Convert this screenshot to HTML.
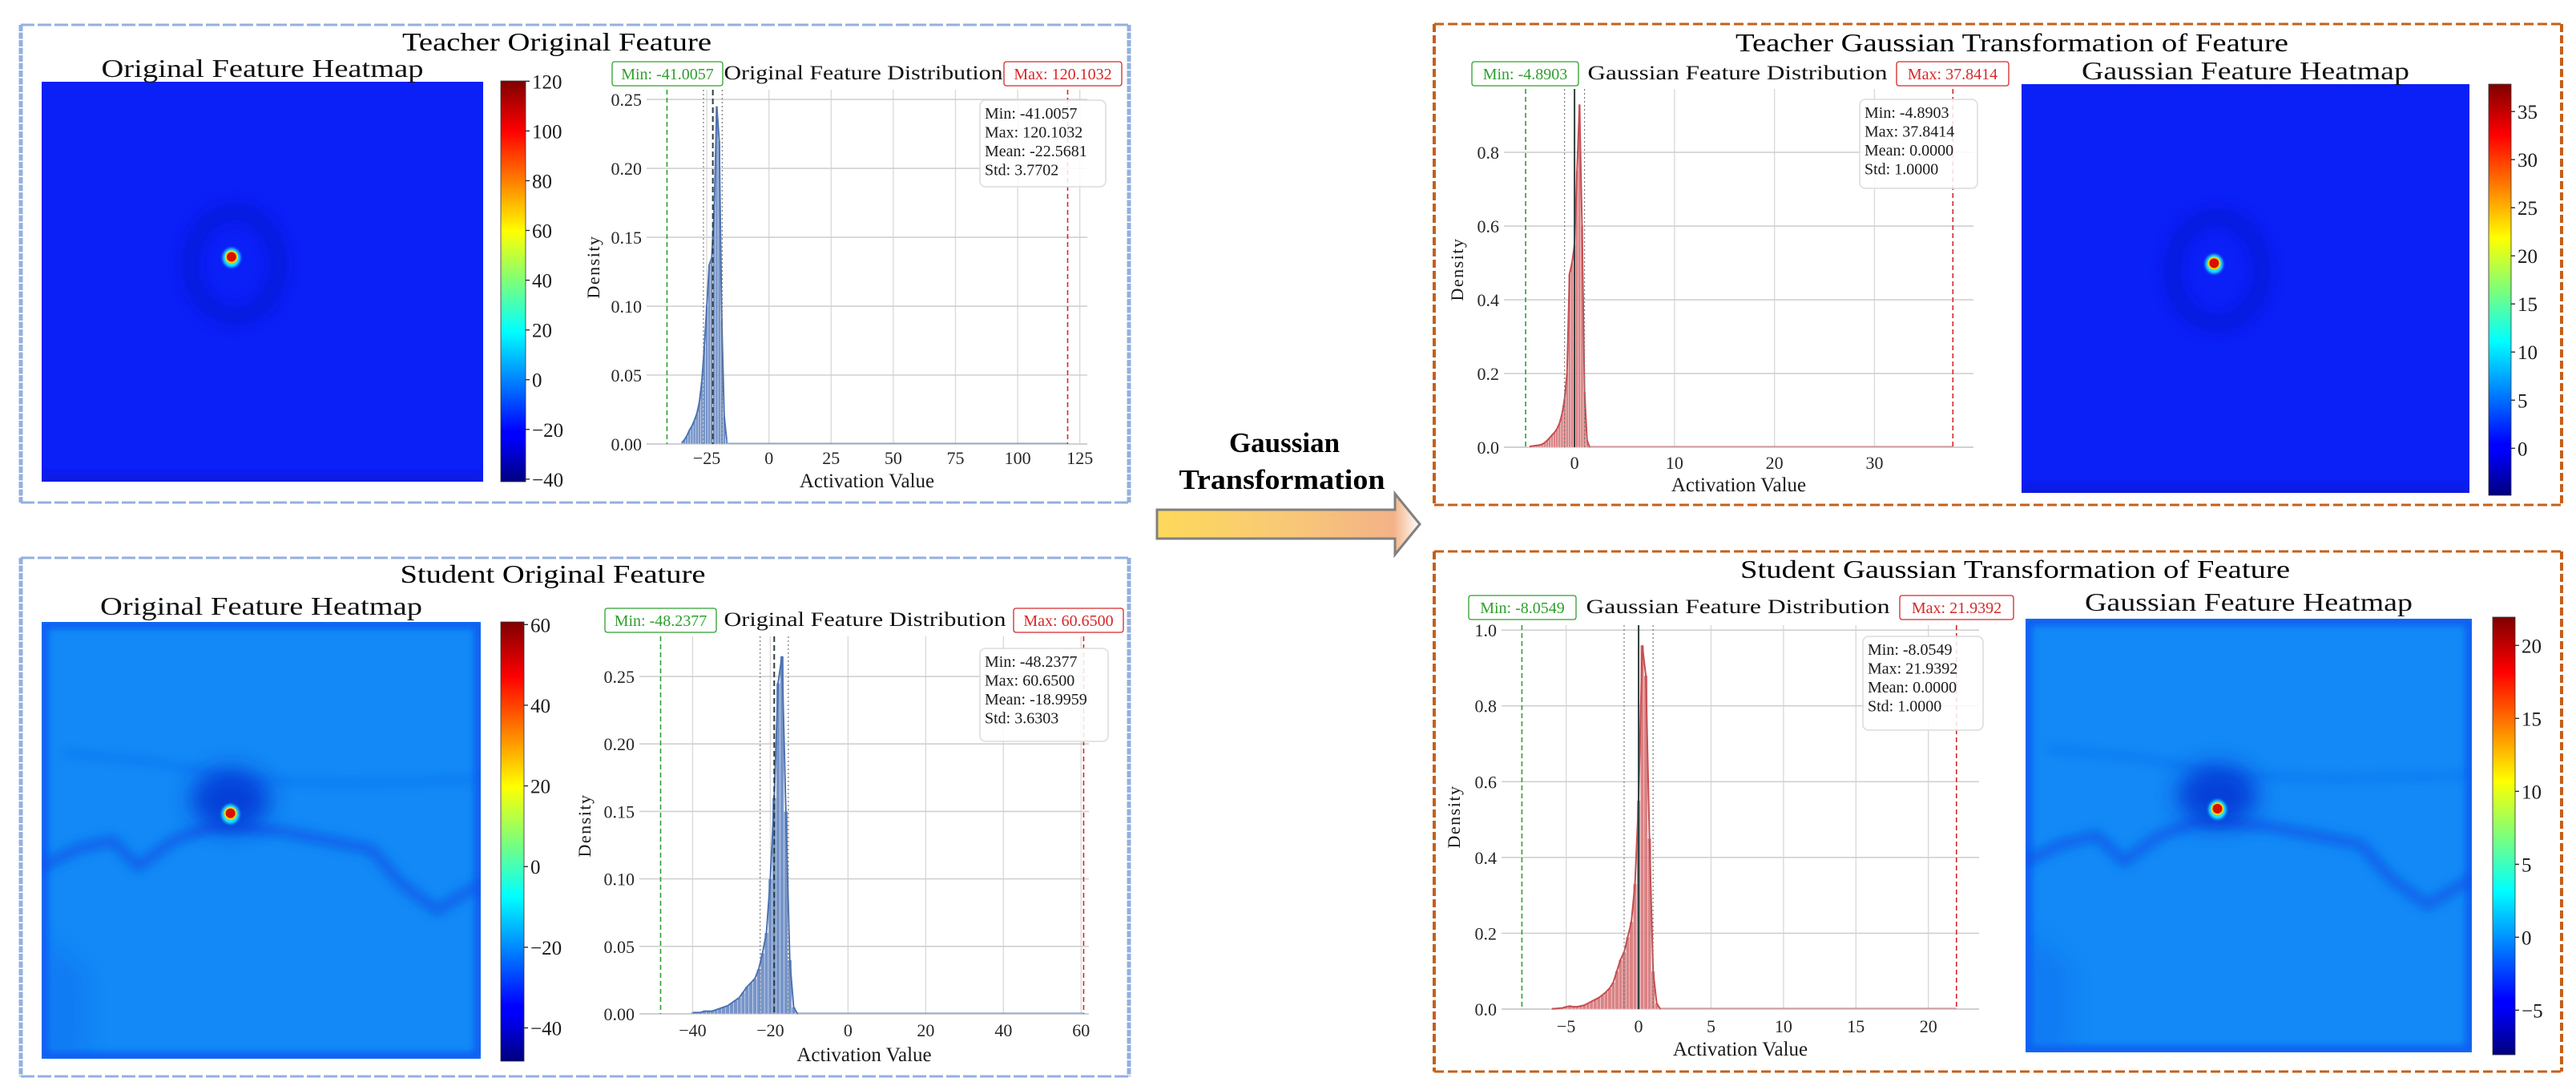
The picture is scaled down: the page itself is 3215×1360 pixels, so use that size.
<!DOCTYPE html>
<html><head><meta charset="utf-8"><title>Gaussian Transformation of Features</title>
<style>
html,body{margin:0;padding:0;background:#fff;}
svg{display:block;font-family:"Liberation Serif","DejaVu Serif",serif;}
</style></head>
<body>
<svg id="fig" xmlns="http://www.w3.org/2000/svg" width="3215" height="1360" viewBox="0 0 3215 1360">
<defs>
<linearGradient id="jet" x1="0" y1="1" x2="0" y2="0">
<stop offset="0" stop-color="#00007f"/><stop offset="0.11" stop-color="#0000ff"/><stop offset="0.125" stop-color="#0000ff"/>
<stop offset="0.375" stop-color="#00ffff"/><stop offset="0.5" stop-color="#7dff7a"/><stop offset="0.625" stop-color="#ffff00"/>
<stop offset="0.875" stop-color="#ff0000"/><stop offset="1" stop-color="#7f0000"/>
</linearGradient>
<linearGradient id="arrowgrad" x1="0" y1="0" x2="1" y2="0">
<stop offset="0" stop-color="#fdd95a"/><stop offset="0.5" stop-color="#f8c877"/><stop offset="0.9" stop-color="#f3b287"/><stop offset="1" stop-color="#ffffff"/>
</linearGradient>
<filter id="blur8" x="-50%" y="-50%" width="200%" height="200%"><feGaussianBlur stdDeviation="8"/></filter>
<filter id="blur4" x="-50%" y="-50%" width="200%" height="200%"><feGaussianBlur stdDeviation="4"/></filter>
<filter id="blur6" x="-50%" y="-50%" width="200%" height="200%"><feGaussianBlur stdDeviation="6"/></filter>
<filter id="blur2" x="-50%" y="-50%" width="200%" height="200%"><feGaussianBlur stdDeviation="1.5"/></filter>
<filter id="blur14" x="-50%" y="-50%" width="200%" height="200%"><feGaussianBlur stdDeviation="14"/></filter>
</defs>

<g fill="none" stroke="#94b0e0">
<line x1="26" y1="31" x2="1409" y2="31" stroke-width="3" stroke-dasharray="17 4"/>
<line x1="26" y1="627" x2="1409" y2="627" stroke-width="3" stroke-dasharray="17 4"/>
<line x1="26" y1="31" x2="26" y2="627" stroke-width="5" stroke-dasharray="8 1.5"/>
<line x1="1409" y1="31" x2="1409" y2="627" stroke-width="5" stroke-dasharray="8 1.5"/>
</g>
<g fill="none" stroke="#94b0e0">
<line x1="26" y1="696" x2="1409" y2="696" stroke-width="3" stroke-dasharray="17 4"/>
<line x1="26" y1="1343" x2="1409" y2="1343" stroke-width="3" stroke-dasharray="17 4"/>
<line x1="26" y1="696" x2="26" y2="1343" stroke-width="5" stroke-dasharray="8 1.5"/>
<line x1="1409" y1="696" x2="1409" y2="1343" stroke-width="5" stroke-dasharray="8 1.5"/>
</g>
<g fill="none" stroke="#c5601a">
<line x1="1790" y1="30" x2="3197" y2="30" stroke-width="3" stroke-dasharray="12 5"/>
<line x1="1790" y1="630" x2="3197" y2="630" stroke-width="3" stroke-dasharray="12 5"/>
<line x1="1790" y1="30" x2="1790" y2="630" stroke-width="4" stroke-dasharray="10 4"/>
<line x1="3197" y1="30" x2="3197" y2="630" stroke-width="4" stroke-dasharray="10 4"/>
</g>
<g fill="none" stroke="#c5601a">
<line x1="1790" y1="688" x2="3197" y2="688" stroke-width="3" stroke-dasharray="12 5"/>
<line x1="1790" y1="1337" x2="3197" y2="1337" stroke-width="3" stroke-dasharray="12 5"/>
<line x1="1790" y1="688" x2="1790" y2="1337" stroke-width="4" stroke-dasharray="10 4"/>
<line x1="3197" y1="688" x2="3197" y2="1337" stroke-width="4" stroke-dasharray="10 4"/>
</g>

<text x="695" y="63" font-size="32" text-anchor="middle" textLength="386" lengthAdjust="spacingAndGlyphs">Teacher Original Feature</text>
<text x="690" y="727" font-size="32" text-anchor="middle" textLength="381" lengthAdjust="spacingAndGlyphs">Student Original Feature</text>
<text x="2511" y="64" font-size="32" text-anchor="middle" textLength="690" lengthAdjust="spacingAndGlyphs">Teacher Gaussian Transformation of Feature</text>
<text x="2515" y="721" font-size="32" text-anchor="middle" textLength="686" lengthAdjust="spacingAndGlyphs">Student Gaussian Transformation of Feature</text>

<text x="1603" y="564" font-size="35" font-weight="bold" text-anchor="middle">Gaussian</text>
<text x="1600" y="610" font-size="35" font-weight="bold" text-anchor="middle" textLength="257" lengthAdjust="spacingAndGlyphs">Transformation</text>
<polygon points="1444,636 1741,636 1741,616 1772,654 1741,692 1741,672 1444,672" fill="url(#arrowgrad)" stroke="#808080" stroke-width="3"/>

<g id="charts"></g>
</svg>

<script>
const tOrigBins=[-35,-34,-33,-32,-31,-30,-29,-28,-27,-26,-25,-24,-23,-22,-21,-20,-19,-18,-17];
const tOrigDens=[0.001,0.003,0.006,0.01,0.013,0.017,0.022,0.03,0.045,0.07,0.1,0.13,0.135,0.17,0.245,0.22,0.09,0.02,0.003];
const tOrigStats=[-41.0057,120.1032,-22.5681,3.7702];
const tOrigXTicks=[-25,0,25,50,75,100,125];
const tOrigYTicks=[0,0.05,0.10,0.15,0.20,0.25];
const tOrigCbTicks=[-40,-20,0,20,40,60,80,100,120];

const sOrigBins=[-40,-39,-38,-37,-36,-35,-34,-33,-32,-31,-30,-29,-28,-27,-26,-25,-24,-23,-22,-21,-20,-19,-18,-17,-16,-15,-14,-13];
const sOrigDens=[0.001,0.001,0.001,0.002,0.002,0.002,0.003,0.004,0.005,0.006,0.008,0.01,0.012,0.016,0.02,0.023,0.026,0.033,0.045,0.06,0.1,0.16,0.245,0.265,0.15,0.04,0.005,0];
const sOrigStats=[-48.2377,60.6500,-18.9959,3.6303];
const sOrigXTicks=[-40,-20,0,20,40,60];
const sOrigYTicks=[0,0.05,0.10,0.15,0.20,0.25];
const sOrigCbTicks=[-40,-20,0,20,40,60];

const tGaussBins=[-4.5,-4.25,-4,-3.75,-3.5,-3.25,-3,-2.75,-2.5,-2.25,-2,-1.75,-1.5,-1.25,-1,-0.75,-0.5,-0.25,0,0.25,0.5,0.75,1,1.25,1.5];
const tGaussDens=[0.002,0.003,0.004,0.005,0.006,0.008,0.012,0.018,0.025,0.033,0.04,0.05,0.065,0.09,0.13,0.2,0.47,0.5,0.55,0.75,0.93,0.6,0.15,0.02,0];
const tGaussStats=[-4.8903,37.8414,0.0,1.0];
const tGaussXTicks=[0,10,20,30];
const tGaussYTicks=[0,0.2,0.4,0.6,0.8];
const tGaussCbTicks=[0,5,10,15,20,25,30,35];

const sGaussBins=[-6,-5.75,-5.5,-5.25,-5,-4.75,-4.5,-4.25,-4,-3.75,-3.5,-3.25,-3,-2.75,-2.5,-2.25,-2,-1.75,-1.5,-1.25,-1,-0.75,-0.5,-0.25,0,0.25,0.5,0.75,1,1.25,1.5];
const sGaussDens=[0.001,0.001,0.002,0.003,0.006,0.008,0.006,0.006,0.008,0.01,0.015,0.02,0.025,0.03,0.037,0.045,0.055,0.07,0.1,0.13,0.15,0.19,0.23,0.33,0.55,0.96,0.88,0.45,0.1,0.015,0];
const sGaussStats=[-8.0549,21.9392,0.0,1.0];
const sGaussXTicks=[-5,0,5,10,15,20];
const sGaussYTicks=[0,0.2,0.4,0.6,0.8,1.0];
const sGaussCbTicks=[-5,0,5,10,15,20];

const NS='http://www.w3.org/2000/svg';
const root=document.getElementById('charts');
function mk(tag,attrs,parent){const e=document.createElementNS(NS,tag);for(const k in attrs)e.setAttribute(k,attrs[k]);(parent||root).appendChild(e);return e;}
function fmtTick(v,dec){const s=v.toFixed(dec);return s.replace('-','\u2212');}

function drawDist(c){
  const g=mk('g',{});
  
  
  const sx=v=>c.px0+(v-c.xd0)/(c.xd1-c.xd0)*(c.px1-c.px0);
  const sy=v=>c.py0-(v/c.ymax)*(c.py0-c.ptop);
  c.xticks.forEach(t=>{
    const l=mk('line',{x1:sx(t),x2:sx(t),y1:c.ptop,y2:c.py0,stroke:'#d8d8d8','stroke-width':1.3},g);
    
    
    const tx=mk('text',{x:sx(t),y:c.tickY,'font-size':22,'text-anchor':'middle',fill:'#262626'},g);
    
    
    tx.textContent=fmtTick(t,0);
  });
  c.yticks.forEach(t=>{
    const l=mk('line',{x1:c.px0,x2:c.px1,y1:sy(t),y2:sy(t),stroke:'#d0d0d0','stroke-width':t===0?2:1.6},g);
    
    
    const tx=mk('text',{x:c.px0-6,y:sy(t)+8,'font-size':22,'text-anchor':'end',fill:'#262626'},g);
    
    
    tx.textContent=t.toFixed(c.ydec);
  });
  const tail=mk('line',{x1:sx(c.bins[c.bins.length-1]),x2:sx(c.stats[1]),y1:sy(0)-1,y2:sy(0)-1,stroke:c.line,'stroke-width':1.2,opacity:0.6},g);
  
  
  const bw=c.bins[1]-c.bins[0];
  c.bins.forEach((b,i)=>{
    const x0=sx(b-bw/2),x1=sx(b+bw/2),y=sy(c.dens[i]);
    const r=mk('rect',{x:x0,y:y,width:Math.max(0.5,x1-x0),height:Math.max(0,c.py0-y),fill:c.fill,stroke:'#ffffff','stroke-width':0.4,'fill-opacity':0.85},g);
    
    
  });
  const pts=c.bins.map((b,i)=>sx(b)+','+sy(c.dens[i])).join(' ');
  const kde=mk('polyline',{points:pts,fill:'none',stroke:c.line,'stroke-width':2},g);
  
  
  const mean=c.stats[2],sd=c.stats[3];
  const mn=mk('line',{x1:sx(c.stats[0]),x2:sx(c.stats[0]),y1:c.ptop,y2:c.py0,stroke:'#2ca02c','stroke-width':1.6,'stroke-dasharray':'6 4'},g);
  
  
  const mx=mk('line',{x1:sx(c.stats[1]),x2:sx(c.stats[1]),y1:c.ptop,y2:c.py0,stroke:'#d62728','stroke-width':1.6,'stroke-dasharray':'6 4'},g);
  
  
  const me=mk('line',{x1:sx(mean),x2:sx(mean),y1:c.ptop,y2:c.py0,stroke:'#2f3f3f','stroke-width':2,'stroke-dasharray':c.meanDash},g);
  
  
  [mean-sd,mean+sd].forEach(v=>{
    const l=mk('line',{x1:sx(v),x2:sx(v),y1:c.ptop,y2:c.py0,stroke:'#777','stroke-width':1.2,'stroke-dasharray':'2 3'},g);
    
    
  });
  const sb=mk('rect',{x:c.sbx,y:c.sby,width:c.sbw,height:c.sbh,rx:7,fill:'#ffffff','fill-opacity':0.85,stroke:'#dcdcdc','stroke-width':1.5},g);
  
  
  const lines=['Min: '+c.stats[0].toFixed(4),'Max: '+c.stats[1].toFixed(4),'Mean: '+c.stats[2].toFixed(4),'Std: '+c.stats[3].toFixed(4)];
  lines.forEach((s,i)=>{
    const t=mk('text',{x:c.sbx+6,y:c.sby+23+i*23.5,'font-size':20,fill:'#1a1a1a'},g);
    
    
    t.textContent=s;
  });
  const ml=mk('rect',{x:c.minx,y:c.laby,width:c.minw,height:30,rx:3,fill:'#fff',stroke:'#2ca02c','stroke-width':1.3},g);
  
  
  const mlt=mk('text',{x:c.minx+c.minw/2,y:c.laby+22,'font-size':20,'text-anchor':'middle',fill:'#2ca02c'},g);
  
  
  mlt.textContent='Min: '+c.stats[0].toFixed(4);
  const xl=mk('rect',{x:c.maxx,y:c.laby,width:c.maxw,height:30,rx:3,fill:'#fff',stroke:'#d62728','stroke-width':1.3},g);
  
  
  const xlt=mk('text',{x:c.maxx+c.maxw/2,y:c.laby+22,'font-size':20,'text-anchor':'middle',fill:'#d62728'},g);
  
  
  xlt.textContent='Max: '+c.stats[1].toFixed(4);
  const tt=mk('text',{x:(c.minx+c.minw+c.maxx)/2,y:c.laby+22,'font-size':25,'text-anchor':'middle',fill:'#111',textLength:c.titleW,lengthAdjust:'spacingAndGlyphs'},g);
  
  
  tt.textContent=c.title;
  const xa=mk('text',{x:(c.px0+c.px1)/2,y:c.xlabY,'font-size':25,'text-anchor':'middle',fill:'#1a1a1a'},g);
  
  
  xa.textContent='Activation Value';
  const ya=mk('text',{x:0,y:0,'font-size':22,'text-anchor':'middle',fill:'#1a1a1a','letter-spacing':'1.5',transform:'translate('+c.ylabX+','+c.ylabY+') rotate(-90)'},g);
  
  
  ya.textContent='Density';
}

function drawColorbar(c){
  const g=mk('g',{});
  
  
  const r=mk('rect',{x:c.x,y:c.y0,width:c.w,height:c.y1-c.y0,fill:'url(#jet)',stroke:'#333','stroke-width':0.8},g);
  
  
  const sy=v=>c.y1-(v-c.vmin)/(c.vmax-c.vmin)*(c.y1-c.y0);
  c.ticks.forEach(t=>{
    const l=mk('line',{x1:c.x+c.w,x2:c.x+c.w+5,y1:sy(t),y2:sy(t),stroke:'#222','stroke-width':1.3},g);
    
    
    const tx=mk('text',{x:c.x+c.w+8,y:sy(t)+9,'font-size':25,fill:'#1a1a1a'},g);
    
    
    tx.textContent=fmtTick(t,0);
  });
}

function drawHeat(c){
  const g=mk('g',{});
  
  
  const cp=mk('clipPath',{id:'clip-'+c.name},g);
  mk('rect',{x:c.x,y:c.y,width:c.w,height:c.h},cp);
  const inner=mk('g',{'clip-path':'url(#clip-'+c.name+')'},g);
  const bg=mk('rect',{x:c.x,y:c.y,width:c.w,height:c.h,fill:c.base},inner);
  
  
  const X=r=>c.x+r*c.w, Y=r=>c.y+r*c.h;
  const hx=X(0.43), hy=Y(0.44);
  if(c.kind==='teacher'){
    const ring=mk('ellipse',{cx:hx+4,cy:hy+8,rx:c.w*0.1,ry:c.h*0.13,fill:'none',stroke:'#0012c4','stroke-width':22,opacity:0.5,filter:'url(#blur8)'},inner);
    
    
    const glow=mk('rect',{x:c.x,y:c.y+c.h-10,width:c.w,height:14,fill:'#0a14c8',opacity:0.5,filter:'url(#blur4)'},inner);
    
    
  } else {
    const frame=mk('rect',{x:c.x+3,y:c.y+3,width:c.w-6,height:c.h-6,fill:'none',stroke:'#0a4ef0','stroke-width':10,opacity:0.75,filter:'url(#blur4)'},inner);
    
    
    const bandPts=[[0,0.56],[0.08,0.52],[0.16,0.5],[0.22,0.56],[0.3,0.5],[0.38,0.47],[0.45,0.47],[0.55,0.48],[0.65,0.5],[0.75,0.52],[0.82,0.6],[0.9,0.66],[1,0.6]];
    const d='M'+bandPts.map(p=>X(p[0])+','+Y(p[1])).join(' L');
    const band=mk('path',{d:d,fill:'none',stroke:'#0848e4','stroke-width':13,opacity:0.6,filter:'url(#blur6)','stroke-linejoin':'round'},inner);
    
    
    const band2Pts=[[0.05,0.3],[0.25,0.32],[0.45,0.36],[0.7,0.37],[1,0.36]];
    const d2='M'+band2Pts.map(p=>X(p[0])+','+Y(p[1])).join(' L');
    const b2=mk('path',{d:d2,fill:'none',stroke:'#0a62ee','stroke-width':8,opacity:0.4,filter:'url(#blur6)'},inner);
    
    
    const lowPts=[[0,0.72],[0.1,0.8],[0.1,1],[0,1]];
    const d3='M'+lowPts.map(p=>X(p[0])+','+Y(p[1])).join(' L')+'Z';
    const b3=mk('path',{d:d3,fill:'#0a5cee',opacity:0.3,filter:'url(#blur14)'},inner);
    
    
    const dark=mk('ellipse',{cx:hx,cy:hy-18,rx:c.w*0.09,ry:c.h*0.07,fill:'#0020cc',opacity:0.7,filter:'url(#blur14)'},inner);
    
    
  }
  const h1=mk('ellipse',{cx:hx,cy:hy,rx:11,ry:12,fill:'#20e8ff',filter:'url(#blur2)'},inner);
  
  
  const h2=mk('ellipse',{cx:hx,cy:hy-1,rx:8,ry:8,fill:'#ffd000'},inner);
  
  
  const h3=mk('ellipse',{cx:hx,cy:hy-1,rx:6,ry:6,fill:'#d81000'},inner);
  
  
  const tt=mk('text',{x:c.x+c.w/2,y:c.titleY,'font-size':32,'text-anchor':'middle',fill:'#111',textLength:c.titleW,lengthAdjust:'spacingAndGlyphs'},g);
  
  
  tt.textContent=c.title;
}

drawHeat({name:'teacher-original',kind:'teacher',x:52,y:102,w:551,h:499,base:'#0b1ff7',title:'Original Feature Heatmap',titleY:96,titleW:402});
drawColorbar({name:'teacher-original',x:625,w:31,y0:101,y1:601,vmin:-41.0057,vmax:120.1032,ticks:tOrigCbTicks});
drawDist({name:'teacher-original',bins:tOrigBins,dens:tOrigDens,stats:tOrigStats,xticks:tOrigXTicks,yticks:tOrigYTicks,ydec:2,
  px0:807,px1:1357,xd0:-49.2,xd1:128,py0:554,ptop:112,ymax:0.257,fill:'#5f82bf',line:'#4c72b0',meanDash:'7 4',
  tickY:579,xlabY:608,ylabX:748,ylabY:333,sbx:1223,sby:125,sbw:157,sbh:108,
  minx:764,minw:138,maxx:1253,maxw:147,laby:77,title:'Original Feature Distribution',titleW:348});

drawHeat({name:'student-original',kind:'student',x:52,y:776,w:548,h:545,base:'#1289f6',title:'Original Feature Heatmap',titleY:767,titleW:402});
drawColorbar({name:'student-original',x:625,w:29,y0:776,y1:1324,vmin:-48.2377,vmax:60.65,ticks:sOrigCbTicks});
drawDist({name:'student-original',bins:sOrigBins,dens:sOrigDens,stats:sOrigStats,xticks:sOrigXTicks,yticks:sOrigYTicks,ydec:2,
  px0:798,px1:1359,xd0:-53.7,xd1:62,py0:1265,ptop:794,ymax:0.2797,fill:'#5f82bf',line:'#4c72b0',meanDash:'7 4',
  tickY:1293,xlabY:1324,ylabX:737,ylabY:1030,sbx:1223,sby:809,sbw:160,sbh:116,
  minx:755,minw:139,maxx:1265,maxw:137,laby:759,title:'Original Feature Distribution',titleW:352});

drawDist({name:'teacher-gaussian',bins:tGaussBins,dens:tGaussDens,stats:tGaussStats,xticks:tGaussXTicks,yticks:tGaussYTicks,ydec:1,
  px0:1877,px1:2463,xd0:-7.06,xd1:39.9,py0:558,ptop:111,ymax:0.972,fill:'#d36d70',line:'#c44e52',meanDash:'0',
  tickY:585,xlabY:613,ylabX:1826,ylabY:336,sbx:2321,sby:124,sbw:147,sbh:111,
  minx:1837,minw:133,maxx:2367,maxw:140,laby:77,title:'Gaussian Feature Distribution',titleW:374});
drawHeat({name:'teacher-gaussian',kind:'teacher',x:2523,y:105,w:559,h:510,base:'#0b1ff7',title:'Gaussian Feature Heatmap',titleY:99,titleW:409});
drawColorbar({name:'teacher-gaussian',x:3106,w:28,y0:105,y1:618,vmin:-4.8903,vmax:37.8414,ticks:tGaussCbTicks});

drawDist({name:'student-gaussian',bins:sGaussBins,dens:sGaussDens,stats:sGaussStats,xticks:sGaussXTicks,yticks:sGaussYTicks,ydec:1,
  px0:1874,px1:2470,xd0:-9.46,xd1:23.5,py0:1259,ptop:780,ymax:1.013,fill:'#d36d70',line:'#c44e52',meanDash:'0',
  tickY:1288,xlabY:1317,ylabX:1822,ylabY:1019,sbx:2325,sby:794,sbw:150,sbh:117,
  minx:1833,minw:134,maxx:2371,maxw:142,laby:743,title:'Gaussian Feature Distribution',titleW:379});
drawHeat({name:'student-gaussian',kind:'student',x:2528,y:772,w:557,h:541,base:'#1289f6',title:'Gaussian Feature Heatmap',titleY:762,titleW:409});
drawColorbar({name:'student-gaussian',x:3111,w:28,y0:770,y1:1316,vmin:-8.0549,vmax:21.9392,ticks:sGaussCbTicks});
</script>
</body></html>
